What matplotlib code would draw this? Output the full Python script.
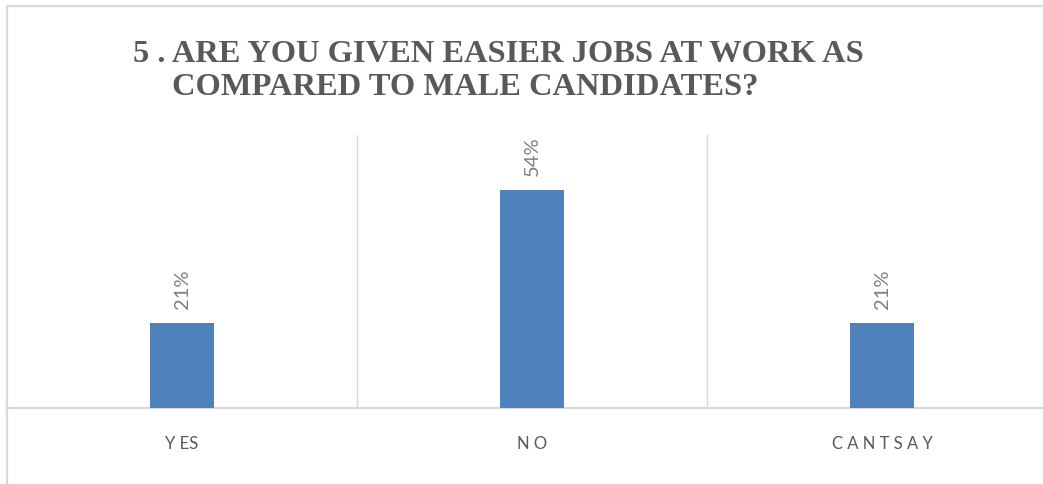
import matplotlib.pyplot as plt
from matplotlib.patches import Rectangle

categories = ["Y ES", "N O", "C A N T S A Y"]
shares = [21, 54, 21]
share_labels = ["21%", "54%", "21%"]

title_line1 = "5 . ARE YOU GIVEN EASIER JOBS AT WORK AS"
title_line2 = "COMPARED TO MALE CANDIDATES?"

bar_color = "#4f81bd"
grid_color = "#d9d9d9"
text_color = "#595959"

fig = plt.figure(figsize=(10.43, 4.84), dpi=100)

# light frame round the chart area (top and left edges)
fig.add_artist(Rectangle((6.5 / 1043, -0.1), 1.2, 1.1 - 5.5 / 484,
                         transform=fig.transFigure, fill=False,
                         edgecolor=grid_color, linewidth=1.6))

ax = fig.add_axes([7 / 1043, 76 / 484, 1050 / 1043, 273 / 484])
x = range(len(categories))
bars = ax.bar(x, shares, width=0.183, color=bar_color, zorder=3)

ax.set_xlim(-0.5, 2.5)
ax.set_ylim(0, 67.6)

# category separators
for sep in (0.5, 1.5):
    ax.axvline(sep, color=grid_color, linewidth=1.0, zorder=1)

for spine in ("top", "right", "left"):
    ax.spines[spine].set_visible(False)
ax.spines["bottom"].set_color(grid_color)
ax.spines["bottom"].set_linewidth(1.6)

ax.set_yticks([])
ax.set_xticks(list(x))
ax.set_xticklabels(categories, fontfamily="Lato", fontsize=12, color=text_color)
ax.tick_params(axis="x", length=0, pad=20)

for rect, lab in zip(bars, share_labels):
    ax.annotate(lab, (rect.get_x() + rect.get_width() / 2, rect.get_height()),
                xytext=(0, 10), textcoords="offset points",
                rotation=90, ha="center", va="bottom",
                fontfamily="Lato", fontsize=14.5, color="#7f7f7f")

fig.text(133 / 1043, 1 - 62 / 484, title_line1, fontfamily="Liberation Serif",
         fontweight="bold", fontsize=23.4, color=text_color, va="baseline")
fig.text(172 / 1043, 1 - 95 / 484, title_line2, fontfamily="Liberation Serif",
         fontweight="bold", fontsize=23.4, color=text_color, va="baseline")

fig.savefig("out.png", dpi=100, facecolor="white")
